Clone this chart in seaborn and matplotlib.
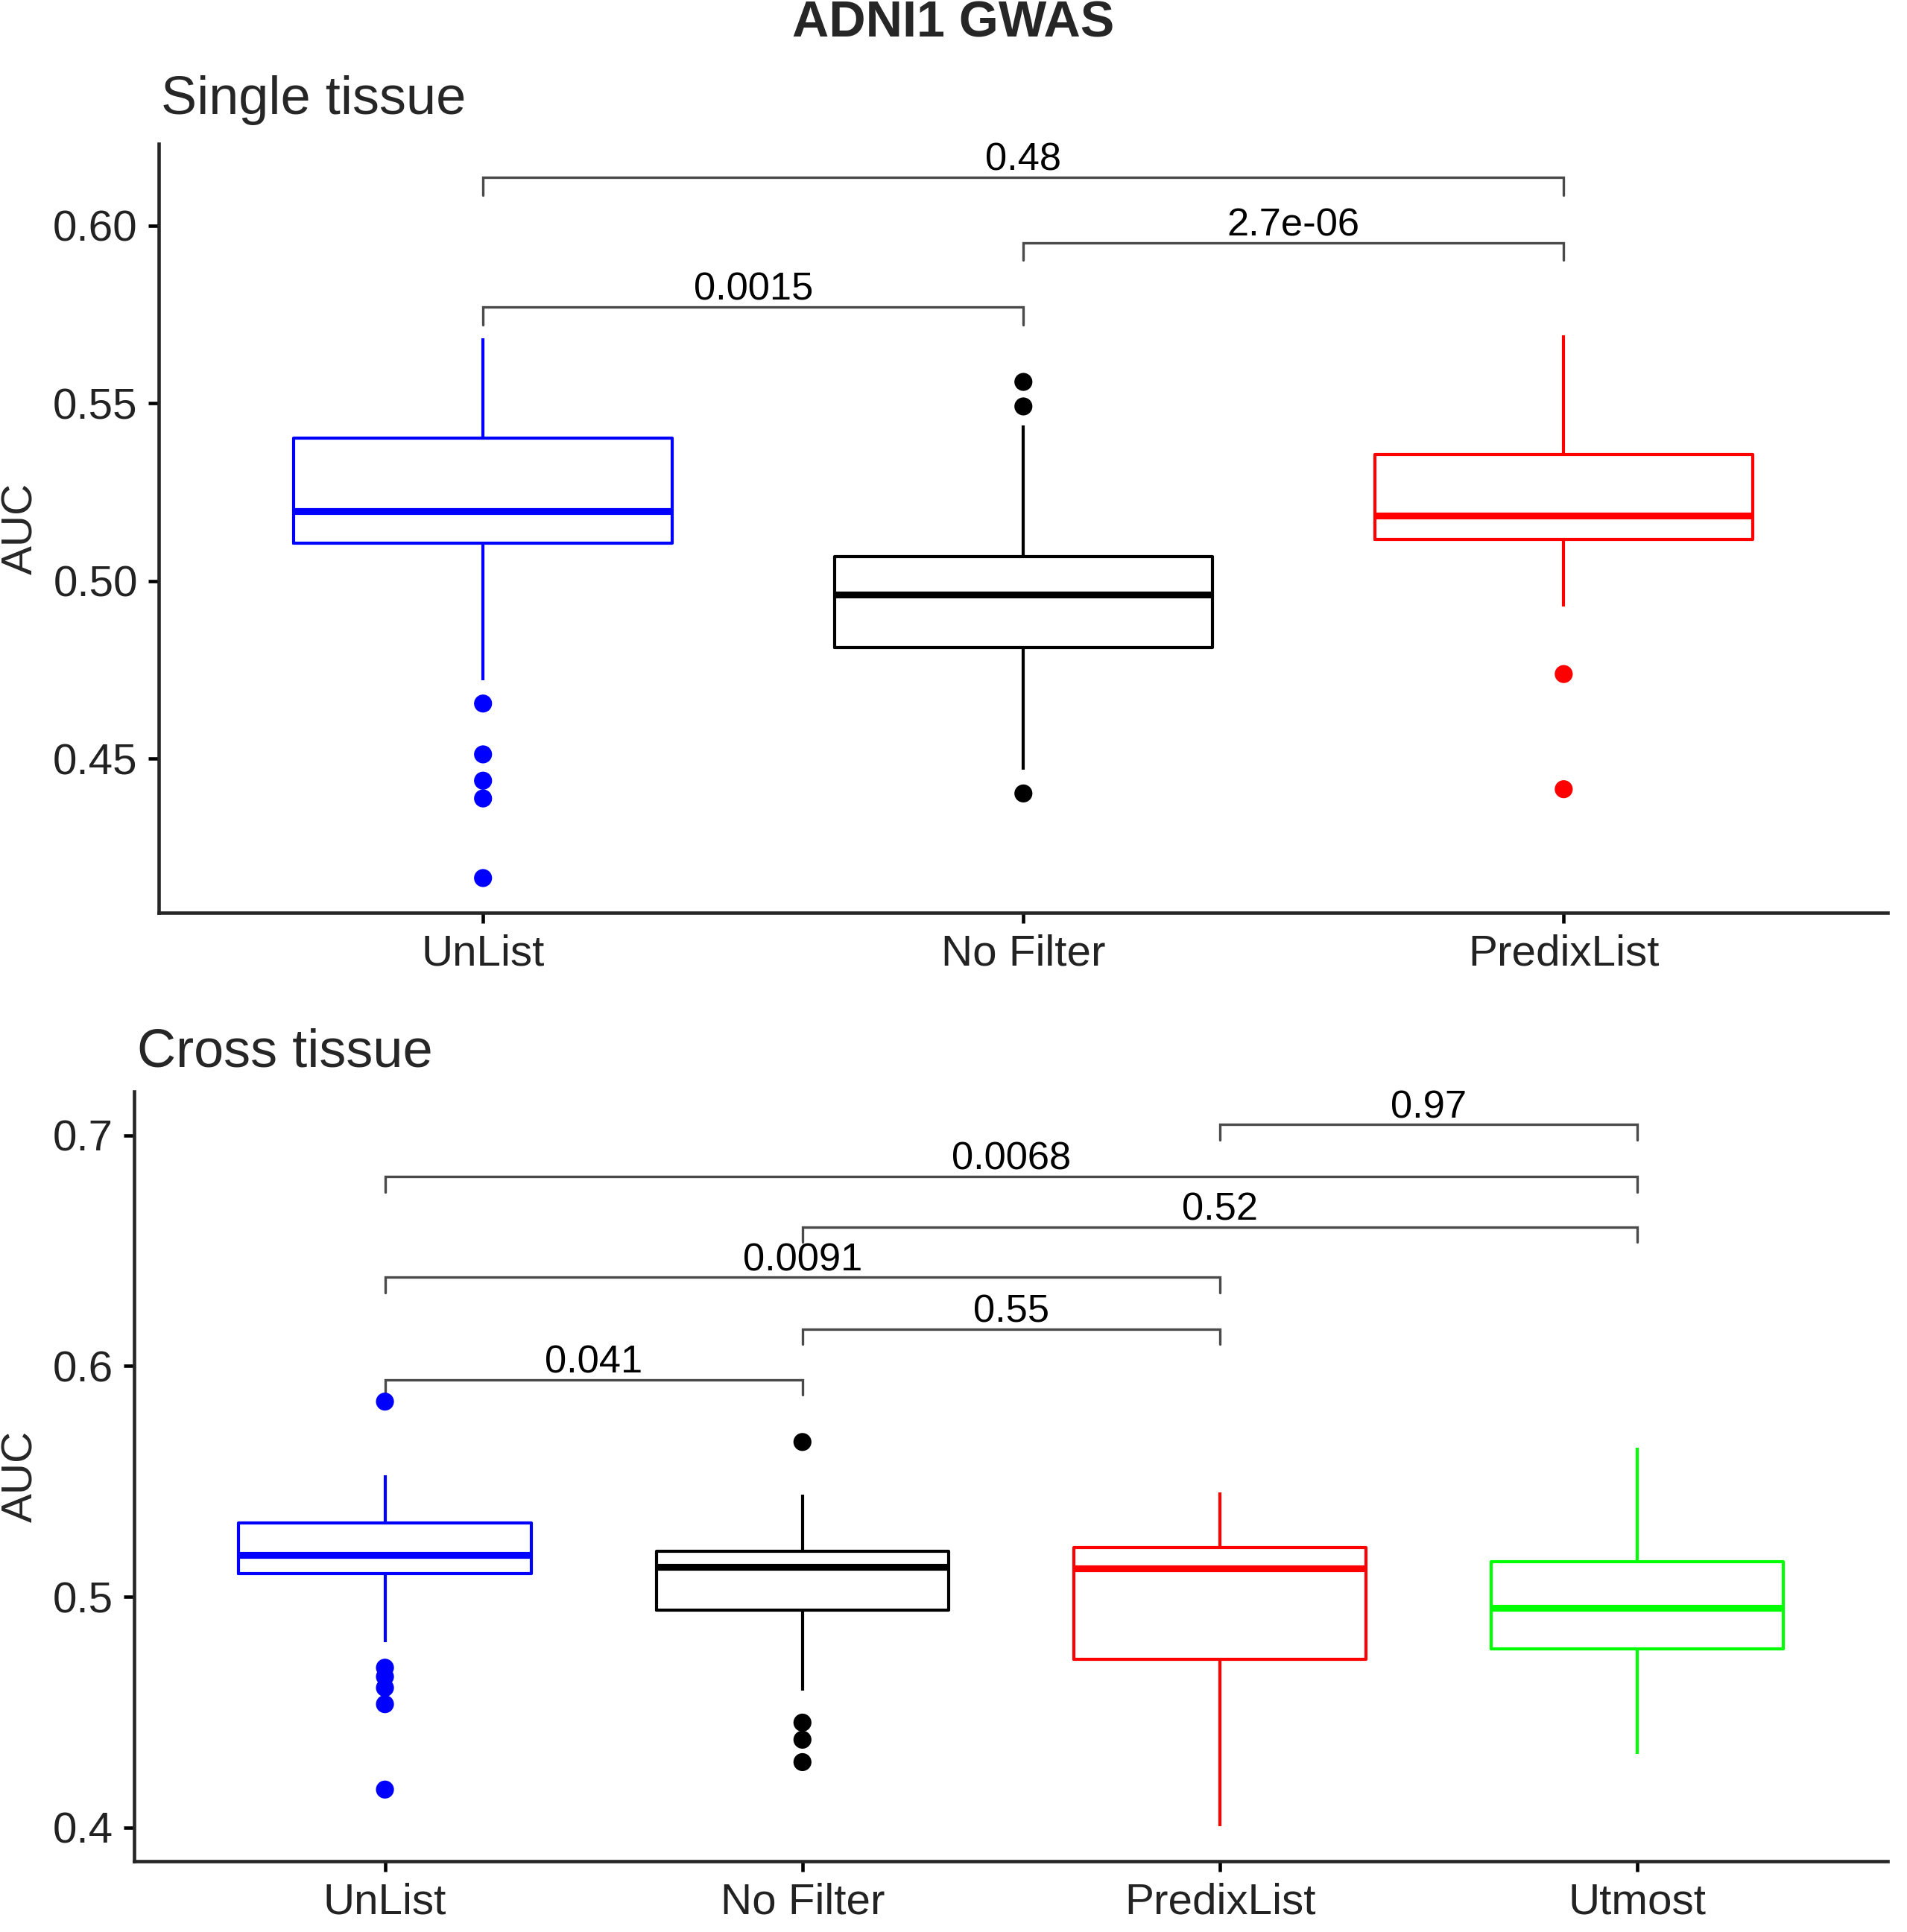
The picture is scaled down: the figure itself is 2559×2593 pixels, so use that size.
import numpy as np
import pandas as pd
import matplotlib
matplotlib.use("Agg")
import matplotlib.pyplot as plt
import seaborn as sns
from matplotlib.ticker import FormatStrFormatter

# ---- Single tissue: box summaries ----
single_groups = ["UnList", "No Filter", "PredixList"]
single_lo = [0.4721, 0.4469, 0.4928]
single_q1 = [0.5107, 0.4812, 0.5117]
single_med = [0.5197, 0.4962, 0.5184]
single_q3 = [0.5401, 0.5069, 0.5356]
single_hi = [0.5682, 0.5437, 0.5692]

single_out_group = ["UnList"] * 5 + ["No Filter"] * 3 + ["PredixList"] * 2
single_out_auc = [0.4655, 0.4512, 0.4438, 0.4388, 0.4164,
                  0.5560, 0.5491, 0.4402,
                  0.4738, 0.4414]

single_pairs = [("UnList", "PredixList"), ("No Filter", "PredixList"), ("UnList", "No Filter")]
single_pvals = ["0.48", "2.7e-06", "0.0015"]
single_bracket_y = [0.6136, 0.5952, 0.5771]

# ---- Cross tissue ----
cross_groups = ["UnList", "No Filter", "PredixList", "Utmost"]
cross_lo = [0.4804, 0.4593, 0.4006, 0.4318]
cross_q1 = [0.5100, 0.4944, 0.4728, 0.4773]
cross_med = [0.5182, 0.5130, 0.5124, 0.4952]
cross_q3 = [0.5320, 0.5196, 0.5214, 0.5151]
cross_hi = [0.5526, 0.5444, 0.5452, 0.5645]

cross_out_group = ["UnList"] * 6 + ["No Filter"] * 4
cross_out_auc = [0.5846, 0.4693, 0.4654, 0.4606, 0.4535, 0.4165,
                 0.5671, 0.4455, 0.4381, 0.4284]

cross_pairs = [("PredixList", "Utmost"), ("UnList", "Utmost"), ("No Filter", "Utmost"),
               ("UnList", "PredixList"), ("No Filter", "PredixList"), ("UnList", "No Filter")]
cross_pvals = ["0.97", "0.0068", "0.52", "0.0091", "0.55", "0.041"]
cross_bracket_y = [0.7046, 0.6821, 0.6602, 0.6385, 0.6160, 0.5941]

palette = {"UnList": "#0000FF", "No Filter": "#000000",
           "PredixList": "#FF0000", "Utmost": "#00FF00"}

sns.set_theme(style="ticks")
plt.rcParams["font.family"] = ["Liberation Sans", "DejaVu Sans"]
plt.rcParams["axes.linewidth"] = 1.1
plt.rcParams["xtick.major.width"] = 1.1
plt.rcParams["ytick.major.width"] = 1.1
plt.rcParams["xtick.major.size"] = 3.3
plt.rcParams["ytick.major.size"] = 3.3


def summary_frame(groups, lo, q1, med, q3, hi):
    rows = []
    for i, g in enumerate(groups):
        for v in (lo[i], q1[i], med[i], q3[i], hi[i]):
            rows.append({"group": g, "AUC": v})
    return pd.DataFrame(rows)


def draw_panel(ax, groups, lo, q1, med, q3, hi, out_g, out_v,
               pairs, pvals, bracket_y, tip, ylim, yticks, fmt):
    df = summary_frame(groups, lo, q1, med, q3, hi)
    # whiskers to min/max of the summary values, outliers added separately
    sns.boxplot(data=df, x="group", y="AUC", hue="group", order=groups,
                palette=palette, fill=False, whis=(0, 100), showfliers=False,
                showcaps=False, width=0.7, linewidth=1.0,
                medianprops={"linewidth": 2.2}, legend=False, ax=ax)
    outs = pd.DataFrame({"group": out_g, "AUC": out_v})
    sns.stripplot(data=outs, x="group", y="AUC", hue="group", order=groups,
                  palette=palette, jitter=False, size=5.8, linewidth=0,
                  legend=False, ax=ax)
    for (a, b), p, y in zip(pairs, pvals, bracket_y):
        xa, xb = groups.index(a), groups.index(b)
        ax.plot([xa, xa, xb, xb], [y - tip, y, y, y - tip],
                color="#4a4a4a", lw=0.8, solid_joinstyle="miter")
        ax.annotate(p, ((xa + xb) / 2, y), xytext=(0, 2.2), textcoords="offset points",
                    ha="center", va="baseline", fontsize=12.6, color="black")
    ax.set_xlim(-0.6, len(groups) - 0.4)
    ax.set_ylim(*ylim)
    ax.set_yticks(yticks)
    ax.yaxis.set_major_formatter(FormatStrFormatter(fmt))
    ax.set_xlabel("")
    ax.set_ylabel("")
    ax.tick_params(axis="both", labelsize=14, colors="black", pad=3.5)
    for lab in ax.get_xticklabels() + ax.get_yticklabels():
        lab.set_color("#222222")
    sns.despine(ax=ax)


fig = plt.figure(figsize=(2559 / 300, 2593 / 300), dpi=300)

ax1 = fig.add_axes([0.0833, 0.5275, 0.9067, 0.3979])
draw_panel(ax1, single_groups, single_lo, single_q1, single_med, single_q3, single_hi,
           single_out_group, single_out_auc, single_pairs, single_pvals,
           single_bracket_y, 0.005, (0.4066, 0.6229), [0.45, 0.50, 0.55, 0.60], "%.2f")

ax2 = fig.add_axes([0.0705, 0.0367, 0.9195, 0.3985])
draw_panel(ax2, cross_groups, cross_lo, cross_q1, cross_med, cross_q3, cross_hi,
           cross_out_group, cross_out_auc, cross_pairs, cross_pvals,
           cross_bracket_y, 0.0066, (0.3855, 0.7191), [0.4, 0.5, 0.6, 0.7], "%.1f")

fig.text(0.5, 0.981, "ADNI1 GWAS", ha="center", va="baseline",
         fontsize=16.4, fontweight="bold")
fig.text(0.0846, 0.941, "Single tissue", ha="left", va="baseline", fontsize=17.3)
fig.text(0.0718, 0.448, "Cross tissue", ha="left", va="baseline", fontsize=17.3)
fig.text(0.011, 0.5275 + 0.3979 / 2, "AUC", rotation=90, ha="center", va="center", fontsize=14)
fig.text(0.011, 0.0367 + 0.3985 / 2, "AUC", rotation=90, ha="center", va="center", fontsize=14)

fig.savefig("out.png", dpi=300)
